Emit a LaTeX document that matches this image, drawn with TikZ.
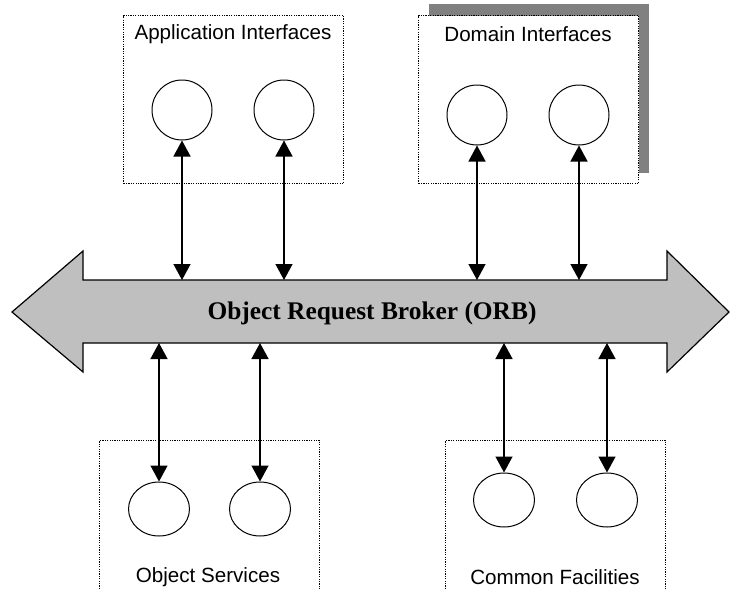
\documentclass[tikz,border=0pt]{standalone}
\usepackage{fontspec}
\setmainfont{Liberation Sans}
\newfontfamily\orbfont{Liberation Serif}
\usetikzlibrary{arrows.meta,shapes.geometric}
\begin{document}
\begin{tikzpicture}[x=1pt,y=-1pt,
  groupbox/.style={draw,line width=1.3pt,dash pattern=on 1.2pt off 1.2pt,fill=white},
  iface/.style={draw,circle,line width=1pt,minimum size=60pt,inner sep=0pt},
  svc/.style={draw,ellipse,line width=1pt,minimum width=61pt,minimum height=54pt,inner sep=0pt},
  grouplabel/.style={font=\fontsize{20.6}{24}\selectfont,inner sep=0pt},
  link/.style={line width=1.4pt,{Triangle[width=17pt,length=16pt]}-{Triangle[width=17pt,length=16pt]}},
  shadowrect/.style={fill=black!50,draw=none}]
\useasboundingbox (0,0) rectangle (731,589);
\clip (0,0) rectangle (731,589);

% Application Interfaces group
\node[groupbox,minimum width=220pt,minimum height=168pt,anchor=north west] (appbox) at (123,15) {};
\node[grouplabel] (applbl) at (233,34) {Application Interfaces};
\node[iface] (a1) at (182,110) {};
\node[iface] (a2) at (284,110) {};

% Domain Interfaces group with drop shadow
\fill[shadowrect] (429,4) rectangle (649,173);
\node[groupbox,minimum width=220pt,minimum height=168pt,anchor=north west] (dombox) at (418,15) {};
\node[grouplabel] (domlbl) at (528,34) {Domain Interfaces};
\node[iface] (d1) at (477,115) {};
\node[iface] (d2) at (579,115) {};

% Object Services group
\node[groupbox,minimum width=220pt,minimum height=200pt,anchor=north west] (svcbox) at (99,440) {};
\node[grouplabel] (svclbl) at (208,577) {Object Services};
\node[svc] (s1) at (159,509) {};
\node[svc] (s2) at (260,509) {};

% Common Facilities group
\node[groupbox,minimum width=220pt,minimum height=200pt,anchor=north west] (facbox) at (445,440) {};
\node[grouplabel] (faclbl) at (555,577) {Common Facilities};
\node[svc] (f1) at (504,500) {};
\node[svc] (f2) at (607,500) {};

% The broker: a double-headed block arrow
\draw[line width=1.2pt,fill=black!25,line join=miter]
  (12,312) -- (83,251) -- (83,280) -- (667,280) -- (667,251) -- (729,312)
  -- (667,372) -- (667,343) -- (83,343) -- (83,372) -- cycle;
\node[font=\orbfont\bfseries\fontsize{25.4}{30}\selectfont,inner sep=0pt] (orb) at (372,313) {Object Request Broker (ORB)};

% Attachment points on the broker
\coordinate (pa1) at (182,280);
\coordinate (pa2) at (284,280);
\coordinate (pd1) at (477,280);
\coordinate (pd2) at (579,280);
\coordinate (ps1) at (159,343);
\coordinate (ps2) at (260,343);
\coordinate (pf1) at (504,343);
\coordinate (pf2) at (607,343);

% Links between components and the broker
\draw[link] (a1.south) -- (pa1);
\draw[link] (a2.south) -- (pa2);
\draw[link] (d1.south) -- (pd1);
\draw[link] (d2.south) -- (pd2);
\draw[link] (ps1) -- (s1.north);
\draw[link] (ps2) -- (s2.north);
\draw[link] (pf1) -- (f1.north);
\draw[link] (pf2) -- (f2.north);
\end{tikzpicture}
\end{document}
